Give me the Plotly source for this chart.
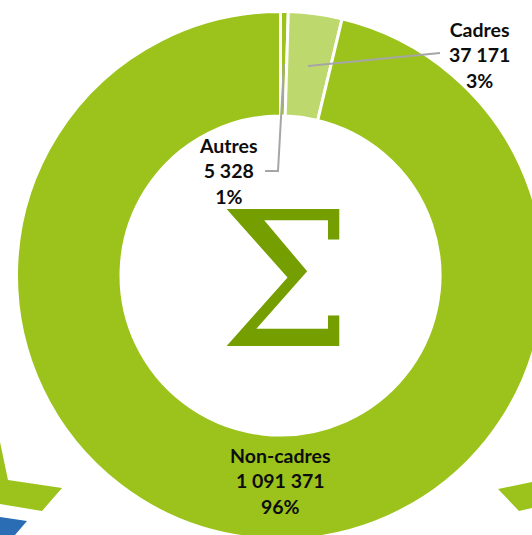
import plotly.graph_objects as go

categories = ["Autres", "Cadres", "Non-cadres"]
values = [5328, 37171, 1091371]
value_labels = ["5 328", "37 171", "1 091 371"]
percent_labels = ["1%", "3%", "96%"]
colors = ["#9BC31C", "#BDD86D", "#9BC31C"]

W, H = 600, 600
def px(x): return x / W
def py(y): return 1 - y / H

fig = go.Figure(go.Pie(
    values=values, labels=categories, hole=159.5 / 264, sort=False, direction="clockwise",
    rotation=0, textinfo="none", hoverinfo="label+value+percent", showlegend=False,
    marker=dict(colors=colors, line=dict(color="white", width=3)),
    domain=dict(x=[px(16.5), px(544.5)], y=[py(539.5), py(11.5)]),
))

def poly(points, color):
    path = "M " + " L ".join(f"{px(x)} {py(y)}" for x, y in points) + " Z"
    return dict(type="path", xref="paper", yref="paper", path=path, fillcolor=color, line_width=0)

def polyline(points):
    path = "M " + " L ".join(f"{px(x)} {py(y)}" for x, y in points)
    return dict(type="path", xref="paper", yref="paper", path=path, line=dict(color="#A6A6A6", width=2))

shapes = [
    poly([(0, 442), (8, 480), (62, 488), (42, 511), (0, 504)], "#9BC31C"),
    poly([(498, 489), (519, 511), (532, 508), (532, 482)], "#9BC31C"),
    poly([(0, 517), (27, 521), (15, 535), (0, 535)], "#2A6DB5"),
    polyline([(308, 66), (440, 53)]),
    polyline([(284, 64), (278, 171), (265, 171)]),
]

label_pos = {"Autres": (228, 171), "Cadres": (479, 55), "Non-cadres": (280, 481)}
ann = []
for c, v, p in zip(categories, value_labels, percent_labels):
    x, y = label_pos[c]
    ann.append(dict(x=px(x), y=py(y), xref="paper", yref="paper", showarrow=False,
                    text=f"<b>{c}<br>{v}<br>{p}</b>", align="center", xanchor="center", yanchor="middle",
                    font=dict(family="Lato", size=19.5, color="#0D0D0D")))
ann.append(dict(x=px(285), y=py(280), xref="paper", yref="paper", showarrow=False, text="Σ",
                xanchor="center", yanchor="middle",
                font=dict(family="DejaVu Serif", size=188, color="#759E00")))

fig.update_layout(width=W, height=H, margin=dict(l=0, r=0, t=0, b=0),
                  paper_bgcolor="white", plot_bgcolor="white", shapes=shapes, annotations=ann)
fig.write_html("out.html", post_script="document.body.style.margin='0';document.body.style.overflow='hidden';document.documentElement.style.overflow='hidden';")
